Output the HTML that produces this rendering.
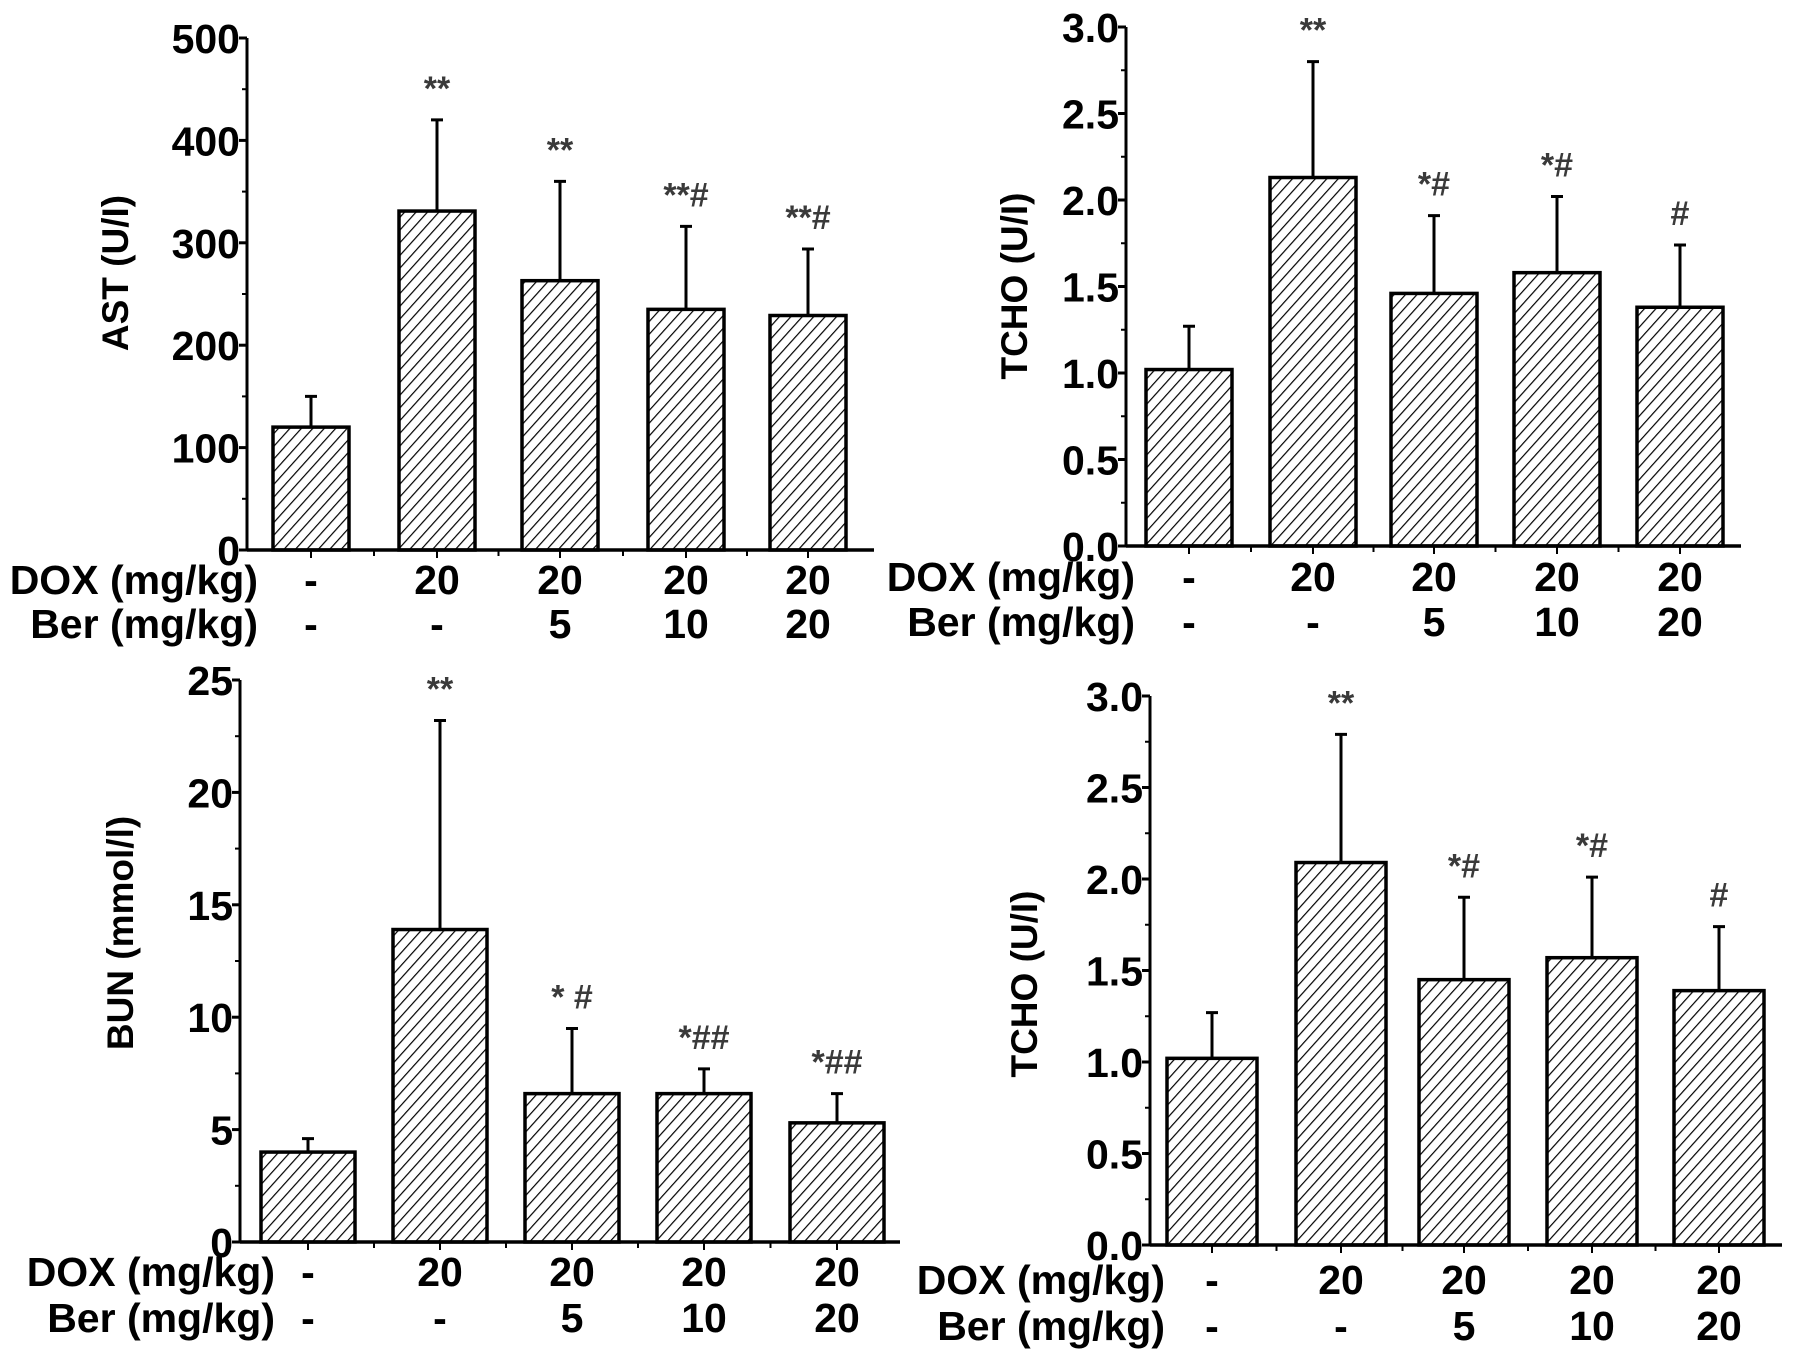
<!DOCTYPE html>
<html><head><meta charset="utf-8"><style>
html,body{margin:0;padding:0;background:#fff;}
svg{display:block;}
text{font-family:"Liberation Sans",Arial,sans-serif;font-weight:bold;fill:#000;}
</style></head><body>
<svg id="fig" width="1795" height="1361" viewBox="0 0 1795 1361" xmlns="http://www.w3.org/2000/svg">
<defs>
<pattern id="hatch" patternUnits="userSpaceOnUse" width="8.5" height="8.5" patternTransform="rotate(42)">
<rect width="8.5" height="8.5" fill="#fff"/>
<line x1="0" y1="0" x2="0" y2="8.5" stroke="#000" stroke-width="2.4"/>
</pattern>
</defs>
</svg>
<script>
// ---- data ----
const groups = ["g1","g2","g3","g4","g5"];
const doxLabels = ["-","20","20","20","20"];
const berLabels = ["-","-","5","10","20"];
const astValues = [120, 331, 263, 235, 229];
const astErrors = [150, 420, 360, 316, 294];
const astMarks = ["", "**", "**", "**#", "**#"];
const astTicks = [0,100,200,300,400,500];
const tchoAValues = [1.02, 2.13, 1.46, 1.58, 1.38];
const tchoAErrors = [1.27, 2.80, 1.91, 2.02, 1.74];
const tchoAMarks = ["", "**", "*#", "*#", "#"];
const tchoTicks = [0.0,0.5,1.0,1.5,2.0,2.5,3.0];
const bunValues = [4.0, 13.9, 6.6, 6.6, 5.3];
const bunErrors = [4.6, 23.2, 9.5, 7.7, 6.6];
const bunMarks = ["", "**", "* #", "*##", "*##"];
const bunTicks = [0,5,10,15,20,25];
const tchoBValues = [1.02, 2.09, 1.45, 1.57, 1.39];
const tchoBErrors = [1.27, 2.79, 1.90, 2.01, 1.74];
const tchoBMarks = ["", "**", "*#", "*#", "#"];

const NS = "http://www.w3.org/2000/svg";
const svg = document.getElementById('fig');
function mk(tag, attrs, parent){
  const e = document.createElementNS(NS, tag);
  for (const k in attrs) e.setAttribute(k, attrs[k]);
  (parent||svg).appendChild(e); return e;
}

function panel(cfg){
  const g = mk('g', {});
  
  
  const ymax = cfg.ticks[cfg.ticks.length-1];
  const ys = v => cfg.y0 - (v/ymax)*(cfg.y0-cfg.yTop);
  groups.forEach((gname,i)=>{
    const cx = cfg.centers[i], v = cfg.values[i], e = cfg.errors[i];
    const err = mk('path', {d:`M${cx},${ys(v)} L${cx},${ys(e)} M${cx-6},${ys(e)} L${cx+6},${ys(e)}`, stroke:'#000','stroke-width':3, fill:'none'}, g);
    
    
    const r = mk('rect', {x:cx-cfg.bw/2, y:ys(v), width:cfg.bw, height:cfg.y0-ys(v), fill:'url(#hatch)', stroke:'#000','stroke-width':3.5}, g);
    
    
    if (cfg.marks[i]){
      const t = mk('text', {x:cx, y:ys(e)-20, 'text-anchor':'middle','font-size':34}, g);
      t.style.fill = '#3a3a3a';
      t.textContent = cfg.marks[i];
      
      
    }
    mk('line', {x1:cx,y1:cfg.y0,x2:cx,y2:cfg.y0+8,stroke:'#000','stroke-width':2}, g);
    if (i>0){ const mx=(cx+cfg.centers[i-1])/2; mk('line', {x1:mx,y1:cfg.y0,x2:mx,y2:cfg.y0+6,stroke:'#000','stroke-width':2}, g); }
    const d = mk('text', {x:cx, y:cfg.doxY, 'text-anchor':'middle','font-size':41}, g);
    d.textContent = doxLabels[i];
    
    
    const b = mk('text', {x:cx, y:cfg.berY, 'text-anchor':'middle','font-size':41}, g);
    b.textContent = berLabels[i];
    
    
  });
  const ya = mk('line', {x1:cfg.ax,y1:cfg.yTop,x2:cfg.ax,y2:cfg.y0,stroke:'#000','stroke-width':3}, g);
  
  
  const xa = mk('line', {x1:cfg.ax,y1:cfg.y0,x2:cfg.xEnd,y2:cfg.y0,stroke:'#000','stroke-width':3.5}, g);
  
  
  cfg.ticks.forEach((t,i)=>{
    const y = ys(t);
    mk('line', {x1:cfg.ax-8,y1:y,x2:cfg.ax,y2:y,stroke:'#000','stroke-width':3}, g);
    if (i < cfg.ticks.length-1){ const ym=(y+ys(cfg.ticks[i+1]))/2; mk('line', {x1:cfg.ax-5,y1:ym,x2:cfg.ax,y2:ym,stroke:'#000','stroke-width':2}, g); }
    const tl = mk('text', {x:cfg.ax-7, y:y+15, 'text-anchor':'end','font-size':41}, g);
    tl.textContent = cfg.fmt(t);
    
    
  });
  const ti = mk('text', {x:0,y:0,'text-anchor':'middle','font-size':37,transform:`translate(${cfg.titleX+13},${cfg.titleY}) rotate(-90)`}, g);
  ti.textContent = cfg.title;
  
  
  const dl = mk('text', {x:cfg.rowRight, y:cfg.doxY, 'text-anchor':'end','font-size':41}, g);
  dl.textContent = 'DOX (mg/kg)';
  
  
  const bl = mk('text', {x:cfg.rowRight, y:cfg.berY, 'text-anchor':'end','font-size':41}, g);
  bl.textContent = 'Ber (mg/kg)';
  
  
}
const intf = v => String(v);
const dec = v => v.toFixed(1);

panel({name:'ast-panel', values:astValues, errors:astErrors, marks:astMarks, ticks:astTicks, fmt:intf,
  ax:247, yTop:38, y0:550, xEnd:874, centers:[311,437,560,686,808], bw:76,
  doxY:594, berY:638, rowRight:258, title:'AST (U/I)', titleX:115, titleY:273});
panel({name:'tcho-panel-top', values:tchoAValues, errors:tchoAErrors, marks:tchoAMarks, ticks:tchoTicks, fmt:dec,
  ax:1126, yTop:27, y0:546, xEnd:1741, centers:[1189,1313,1434,1557,1680], bw:86,
  doxY:591, berY:636, rowRight:1135, title:'TCHO (U/I)', titleX:1014, titleY:286});
panel({name:'bun-panel', values:bunValues, errors:bunErrors, marks:bunMarks, ticks:bunTicks, fmt:intf,
  ax:240, yTop:680, y0:1242, xEnd:900, centers:[308,440,572,704,837], bw:94,
  doxY:1286, berY:1332, rowRight:275, title:'BUN (mmol/l)', titleX:120, titleY:933});
panel({name:'tcho-panel-bottom', values:tchoBValues, errors:tchoBErrors, marks:tchoBMarks, ticks:tchoTicks, fmt:dec,
  ax:1150, yTop:696, y0:1245, xEnd:1782, centers:[1212,1341,1464,1592,1719], bw:90,
  doxY:1294, berY:1340, rowRight:1165, title:'TCHO (U/I)', titleX:1024, titleY:984});
</script>
</body></html>
